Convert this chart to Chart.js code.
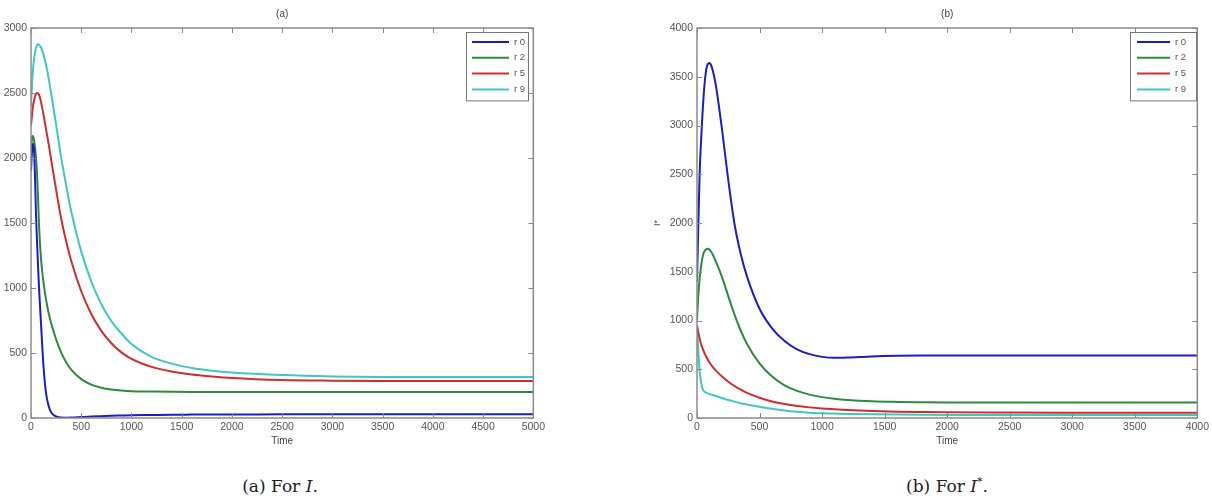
<!DOCTYPE html>
<html lang="en">
<head>
<meta charset="UTF-8">
<title>I and I* over time</title>
<style>
  body { margin: 0; background: #fff; width: 1212px; height: 496px; position: relative; overflow: hidden; }
  canvas { position: absolute; top: 0; }
  #chartA { left: 0; }
  #chartB { left: 640px; }
  .caption { position: absolute; top: 476px; font-family: "DejaVu Serif", serif; font-size: 17px; line-height: 20px;
             color: #222; transform: translateX(-50%); white-space: nowrap; }
  .caption sup { font-size: 11px; line-height: 0; vertical-align: 7px; }
</style>
</head>
<body>
<canvas id="chartA" width="548" height="452"></canvas>
<canvas id="chartB" width="572" height="452"></canvas>
<div class="caption" style="left:280px">(a) For <i>I</i>.</div>
<div class="caption" style="left:947px">(b) For <i>I</i><sup>*</sup>.</div>

<script src="https://cdn.jsdelivr.net/npm/chart.js"></script>
<script>
// series labels + colours
const seriesNames = ['r 0', 'r 2', 'r 5', 'r 9'];
const seriesColors = ['#1c1cc8', '#2a8c3a', '#d22c2c', '#3ec8c2'];

// (a) I over time
const timeA = [0, 10, 20, 30, 40, 50, 60, 70, 80, 100, 125, 150, 175, 200, 250, 300, 350, 400, 500, 600,
               700, 800, 900, 1000, 1200, 1400, 1600, 1800, 2000, 2500, 3000, 3500, 4000, 5000];
const r0A = [1900, 2050, 2110, 2060, 1850, 1560, 1360, 1170, 1000, 720, 390, 190, 95, 45, 12, 3, 2, 3, 7, 11,
             14, 17, 19, 21, 23, 25, 26, 27, 27, 28, 28, 28, 28, 28];
const r2A = [2050, 2150, 2170, 2140, 2080, 2000, 1880, 1700, 1480, 1220, 1040, 910, 810, 730, 605, 505, 428, 372, 299, 257,
             233, 219, 211, 206, 203, 201, 200, 200, 200, 200, 200, 200, 200, 200];
const r5A = [2250, 2330, 2400, 2440, 2475, 2495, 2500, 2498, 2488, 2430, 2330, 2220, 2110, 1990, 1755, 1535, 1360, 1210, 975, 800,
             670, 575, 505, 455, 393, 358, 335, 320, 308, 292, 287, 285, 285, 285];
const r9A = [2400, 2560, 2680, 2760, 2815, 2850, 2868, 2875, 2872, 2850, 2795, 2715, 2615, 2500, 2255, 2005, 1790, 1590, 1280, 1050,
             875, 745, 650, 570, 470, 418, 385, 364, 350, 330, 320, 316, 315, 315];

// (b) I* over time
const timeB = [0, 10, 20, 30, 40, 50, 60, 70, 80, 90, 100, 110, 125, 150, 175, 200, 250, 300, 350, 400, 500, 600,
               700, 800, 900, 1000, 1100, 1200, 1400, 1600, 1800, 2000, 2500, 3000, 4000];
const r0B = [1400, 1950, 2460, 2780, 3030, 3250, 3420, 3540, 3610, 3635, 3640, 3625, 3570, 3420, 3200, 2960, 2440, 1990, 1680, 1450, 1120, 920,
             790, 705, 655, 627, 617, 620, 632, 638, 640, 640, 640, 640, 640];
const r2B = [1000, 1250, 1420, 1530, 1620, 1680, 1710, 1725, 1733, 1735, 1725, 1710, 1680, 1605, 1530, 1445, 1250, 1060, 895, 760, 560, 425,
             335, 278, 240, 214, 197, 185, 171, 165, 162, 160, 160, 160, 160];
const r5B = [950, 880, 820, 770, 730, 695, 665, 638, 613, 590, 570, 551, 525, 488, 455, 425, 372, 328, 290, 258, 208, 170,
             143, 123, 109, 98, 89, 82, 72, 65, 61, 58, 56, 55, 55];
const r9B = [950, 700, 500, 390, 320, 285, 270, 262, 255, 250, 246, 242, 236, 225, 215, 205, 185, 168, 152, 138, 116, 95,
             78, 65, 55, 48, 45, 42, 38, 35, 33, 32, 31, 31, 31];

const tickFont = { family: '"Liberation Sans", Arial, sans-serif', size: 10.5 };
const tickColor = '#555';

function pts(ts, vs) {
  return ts.map((t, i) => ({ x: t, y: vs[i] }));
}

function makeSets(ts, lists) {
  return lists.map((vs, i) => ({
    label: seriesNames[i],
    data: pts(ts, vs),
    borderColor: seriesColors[i],
    backgroundColor: seriesColors[i],
    borderWidth: 2,
    pointRadius: 0,
    fill: false,
    cubicInterpolationMode: 'monotone'
  }));
}

// matlab style frame with inward ticks on all four sides
const boxTicks = {
  id: 'boxTicks',
  afterDatasetsDraw(chart) {
    const { ctx, chartArea: a, scales: { x, y } } = chart;
    ctx.save();
    ctx.strokeStyle = '#8a8a8a';
    ctx.lineWidth = 1;
    ctx.beginPath();
    x.ticks.forEach(t => {
      const px = Math.round(x.getPixelForValue(t.value)) + 0.5;
      ctx.moveTo(px, a.bottom); ctx.lineTo(px, a.bottom - 5);
      ctx.moveTo(px, a.top); ctx.lineTo(px, a.top + 5);
    });
    y.ticks.forEach(t => {
      const py = Math.round(y.getPixelForValue(t.value)) + 0.5;
      ctx.moveTo(a.left, py); ctx.lineTo(a.left + 5, py);
      ctx.moveTo(a.right, py); ctx.lineTo(a.right - 5, py);
    });
    ctx.stroke();
    ctx.lineWidth = 1.5;
    ctx.strokeRect(a.left, a.top, a.right - a.left, a.bottom - a.top);
    ctx.restore();
  }
};

// small "(a)" / "(b)" title over the plot box
const plotTitle = {
  id: 'plotTitle',
  afterDraw(chart, args, o) {
    const { ctx, chartArea: a } = chart;
    ctx.save();
    ctx.font = '10px "Liberation Sans", Arial, sans-serif';
    ctx.fillStyle = '#444';
    ctx.textAlign = 'center';
    ctx.textBaseline = 'middle';
    ctx.fillText(o.text, (a.left + a.right) / 2, 14);
    ctx.restore();
  }
};

// boxed legend in the top-right corner
const boxLegend = {
  id: 'boxLegend',
  afterDraw(chart, args, o) {
    const { ctx, chartArea: a } = chart;
    const sets = chart.data.datasets;
    const rowH = 15.8;
    const h = 10 + rowH * (sets.length - 1) + 11;
    const left = Math.round(a.right - o.gap - o.width);
    const top = Math.round(a.top + 4);
    ctx.save();
    ctx.fillStyle = '#fff';
    ctx.fillRect(left, top, o.width, h);
    ctx.strokeStyle = '#777';
    ctx.lineWidth = 1;
    ctx.strokeRect(left + 0.5, top + 0.5, o.width, h);
    ctx.font = '9.5px "Liberation Sans", Arial, sans-serif';
    ctx.textBaseline = 'middle';
    sets.forEach((ds, i) => {
      const cy = top + 10 + i * rowH;
      ctx.strokeStyle = ds.borderColor;
      ctx.lineWidth = 2;
      ctx.beginPath();
      ctx.moveTo(left + o.lineX, cy);
      ctx.lineTo(left + o.lineX + o.lineW, cy);
      ctx.stroke();
      ctx.fillStyle = '#555';
      ctx.fillText(ds.label, left + o.lineX + o.lineW + 5, cy);
    });
    ctx.restore();
  }
};

function makeChart(id, ts, lists, xMax, yMax, yWidth, yTitle, padRight, title, legendOpts) {
  return new Chart(document.getElementById(id), {
    type: 'line',
    data: { datasets: makeSets(ts, lists) },
    options: {
      responsive: false,
      animation: false,
      layout: { padding: { top: 28, right: padRight, left: 0, bottom: 0 } },
      scales: {
        x: {
          type: 'linear',
          min: 0,
          max: xMax,
          ticks: { stepSize: 500, autoSkip: false, maxRotation: 0, padding: 3, font: tickFont, color: tickColor,
                   callback: v => String(v) },
          grid: { display: false, drawTicks: false },
          border: { display: false },
          title: { display: true, text: 'Time', color: '#444',
                   font: { family: '"Liberation Sans", Arial, sans-serif', size: 10 }, padding: { top: 0, bottom: 5 } },
          afterFit(s) { s.height = 34; }
        },
        y: {
          min: 0,
          max: yMax,
          ticks: { stepSize: 500, padding: 4, font: tickFont, color: tickColor, callback: v => String(v) },
          grid: { display: false, drawTicks: false },
          border: { display: false },
          title: { display: !!yTitle, text: yTitle, color: '#444',
                   font: { family: '"Liberation Sans", Arial, sans-serif', size: 9 }, padding: { top: 12, bottom: 0 } },
          afterFit(s) { s.width = yWidth; }
        }
      },
      plugins: {
        legend: { display: false },
        tooltip: { enabled: false },
        plotTitle: { text: title },
        boxLegend: legendOpts
      }
    },
    plugins: [boxTicks, plotTitle, boxLegend]
  });
}

makeChart('chartA', timeA, [r0A, r2A, r5A, r9A], 5000, 3000, 31, '', 14, '(a)',
          { width: 62, gap: 5, lineX: 6, lineW: 37 });
makeChart('chartB', timeB, [r0B, r2B, r5B, r9B], 4000, 4000, 57, 'I*', 12, '(b)',
          { width: 66, gap: 1, lineX: 7, lineW: 33 });
</script>
</body>
</html>
